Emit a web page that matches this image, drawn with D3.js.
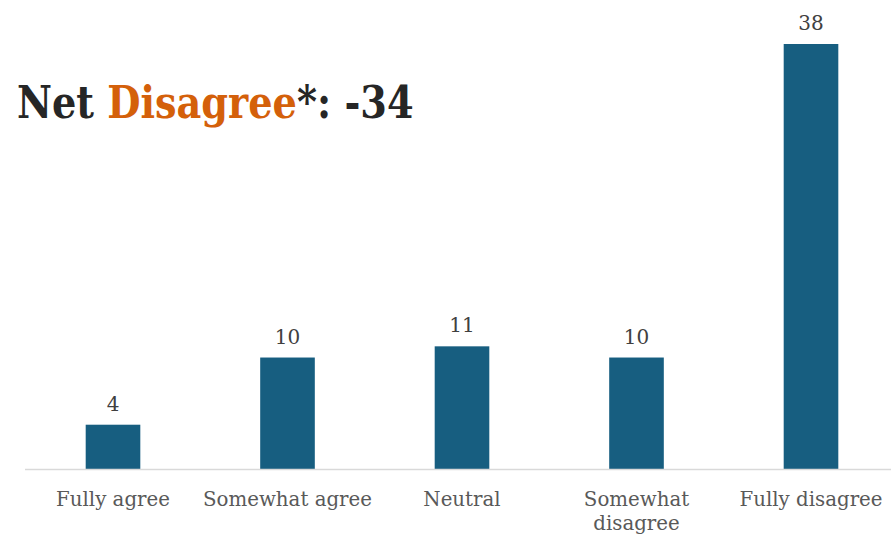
<!DOCTYPE html>
<html>
<head>
<meta charset="utf-8">
<script src="https://cdn.jsdelivr.net/npm/d3@7"></script>
<style>
  html, body { margin: 0; padding: 0; background: #fff; }
  svg { display: block; }
</style>
</head>
<body>
<svg id="chart" width="891" height="535"></svg>
<script>
// Response categories and share of respondents (%)
const categories = ["Fully agree", "Somewhat agree", "Neutral", "Somewhat disagree", "Fully disagree"];
const categoryLines = [["Fully agree"], ["Somewhat agree"], ["Neutral"], ["Somewhat", "disagree"], ["Fully disagree"]];
const values = [4, 10, 11, 10, 38];
const netLabel = ["Net ", "Disagree", "*: -34"];

const W = 891, H = 535;
const baseline = 469.5;
const serif = "Georgia, 'DejaVu Serif', serif";

const svg = d3.select("#chart");

const x = d3.scaleBand()
  .domain(categories)
  .range([25.75, 898.25])
  .paddingInner(0.687)
  .paddingOuter(0.3435);

const y = d3.scaleLinear()
  .domain([0, 38])
  .range([baseline, 44]);

// Bars
svg.append("g").selectAll("rect")
  .data(values)
  .join("rect")
  .attr("x", (d, i) => x(categories[i]))
  .attr("y", d => y(d))
  .attr("width", x.bandwidth())
  .attr("height", d => baseline - y(d))
  .attr("fill", "#175e80");

// Baseline axis
const axis = svg.append("g")
  .attr("transform", `translate(0,${baseline})`)
  .call(d3.axisBottom(x).tickSize(0).tickFormat(""));
axis.select(".domain")
  .attr("d", `M25,0H${W}`)
  .attr("stroke", "#d9d9d9")
  .attr("stroke-width", 1.5);

// Category labels
svg.append("g").selectAll("text")
  .data(categories)
  .join("text")
  .attr("x", d => x(d) + x.bandwidth() / 2)
  .attr("y", baseline + 36)
  .attr("text-anchor", "middle")
  .attr("font-family", serif)
  .attr("font-size", 19.8)
  .attr("fill", "#595959")
  .each(function(d, i) {
    d3.select(this).selectAll("tspan")
      .data(categoryLines[i])
      .join("tspan")
      .attr("x", x(d) + x.bandwidth() / 2)
      .attr("dy", (t, j) => j === 0 ? 0 : 24)
      .text(t => t);
  });

// Value labels
svg.append("g").selectAll("text")
  .data(values)
  .join("text")
  .attr("x", (d, i) => x(categories[i]) + x.bandwidth() / 2)
  .attr("y", d => y(d) - 14)
  .attr("text-anchor", "middle")
  .attr("font-family", serif)
  .attr("font-size", 20)
  .attr("fill", "#404040")
  .text(d => d);

// Headline, narrowed horizontally to keep a tall bold face
const title = svg.append("g")
  .attr("transform", "translate(17,118) scale(0.87,1)")
  .append("text")
  .attr("font-family", serif)
  .attr("font-weight", "bold")
  .attr("font-size", 44)
  .attr("fill", "#262626");
title.selectAll("tspan")
  .data(netLabel)
  .join("tspan")
  .attr("fill", (d, i) => i === 1 ? "#d4600a" : "#262626")
  .text(d => d);
</script>
</body>
</html>
